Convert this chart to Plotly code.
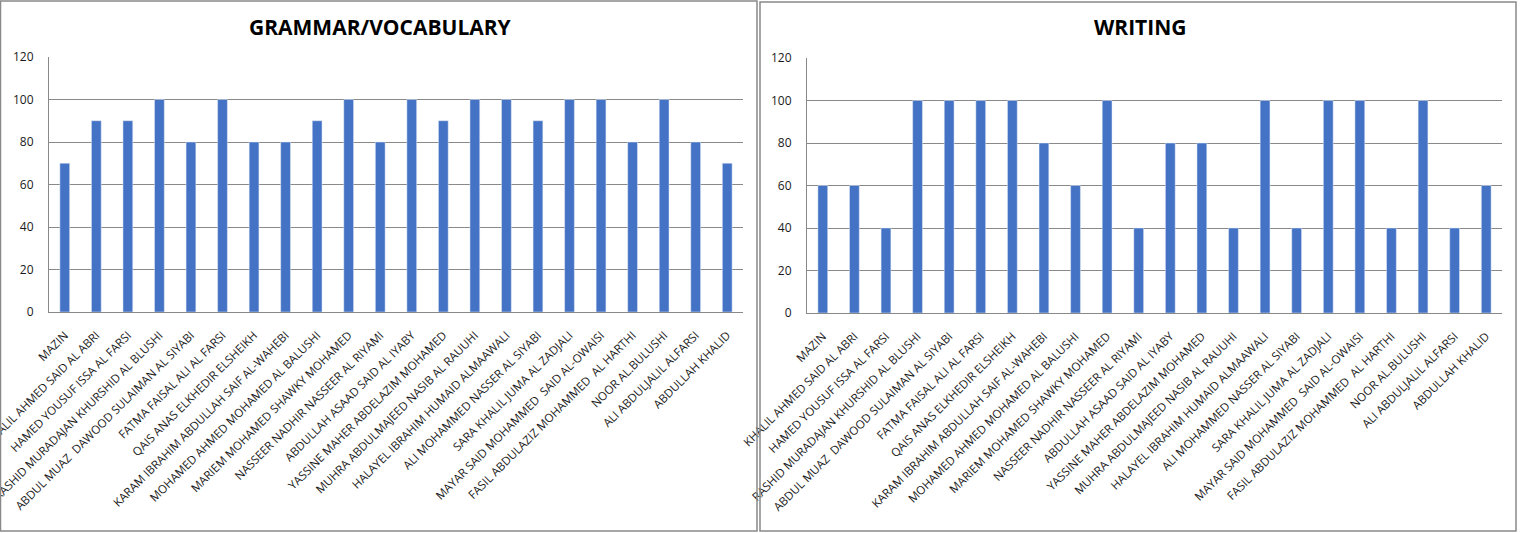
import plotly.graph_objects as go

# Student names (x categories)
students = [
    "MAZIN",
    "KHALIL AHMED SAID AL ABRI",
    "HAMED YOUSUF ISSA AL FARSI",
    "RASHID MURADAJAN KHURSHID AL BLUSHI",
    "ABDUL MUAZ  DAWOOD SULAIMAN AL SIYABI",
    "FATMA FAISAL ALI AL FARSI",
    "QAIS ANAS ELKHEDIR ELSHEIKH",
    "KARAM IBRAHIM ABDULLAH SAIF AL-WAHEBI",
    "MOHAMED AHMED MOHAMED AL BALUSHI",
    "MARIEM MOHAMED SHAWKY MOHAMED",
    "NASSEER NADHIR NASSEER AL RIYAMI",
    "ABDULLAH ASAAD SAID AL IYABY",
    "YASSINE MAHER ABDELAZIM MOHAMED",
    "MUHRA ABDULMAJEED NASIB AL RAUUHI",
    "HALAYEL IBRAHIM HUMAID ALMAAWALI",
    "ALI MOHAMMED NASSER AL SIYABI",
    "SARA KHALIL JUMA AL ZADJALI",
    "MAYAR SAID MOHAMMED  SAID AL-OWAISI",
    "FASIL ABDULAZIZ MOHAMMED  AL HARTHI",
    "NOOR AL.BULUSHI",
    "ALI ABDULJALIL ALFARSI",
    "ABDULLAH KHALID",
]

# Scores
grammar = [70, 90, 90, 100, 80, 100, 80, 80, 90, 100, 80,
           100, 90, 100, 100, 90, 100, 100, 80, 100, 80, 70]
writing = [60, 60, 40, 100, 100, 100, 100, 80, 60, 100, 40,
           80, 80, 40, 100, 40, 100, 100, 40, 100, 40, 60]

y_ticks = [0, 20, 40, 60, 80, 100, 120]

W, H = 1520, 533
BAR = "#4472C4"
GRID = "#898989"

def px_x(v):
    return v / W

def px_y(v):
    return 1 - v / H

fig = go.Figure()

fig.add_trace(go.Bar(x=students, y=grammar, marker_color=BAR,
                     xaxis="x", yaxis="y", showlegend=False))
fig.add_trace(go.Bar(x=students, y=writing, marker_color=BAR,
                     xaxis="x2", yaxis="y2", showlegend=False))

xcommon = dict(tickangle=-45, showgrid=False, showline=True, linecolor=GRID,
               linewidth=1, ticks="", automargin=False, fixedrange=True,
               ticklabelstandoff=11,
               tickfont=dict(family="Open Sans", size=11.6, color="#1a1a1a"))
ycommon = dict(range=[0, 120], tickvals=y_ticks, showgrid=True, gridcolor=GRID,
               gridwidth=1, showline=True, linecolor=GRID, linewidth=1,
               zeroline=False, ticks="", automargin=False, ticklabelstandoff=12,
               fixedrange=True,
               tickfont=dict(family="Open Sans", size=12, color="#1a1a1a"))

fig.update_layout(
    width=W, height=H,
    margin=dict(l=0, r=0, t=0, b=0),
    paper_bgcolor="white", plot_bgcolor="white",
    bargap=0.69,
    xaxis=dict(domain=[px_x(49), px_x(743)], anchor="y", **xcommon),
    yaxis=dict(domain=[px_y(312), px_y(57)], anchor="x", **ycommon),
    xaxis2=dict(domain=[px_x(807), px_x(1502)], anchor="y2", **xcommon),
    yaxis2=dict(domain=[px_y(313), px_y(58)], anchor="x2", **ycommon),
)

# Panel borders
for x0, x1, y0, y1 in [(0.5, 757, 1, 531), (760, 1516, 2, 531)]:
    fig.add_shape(type="rect", xref="paper", yref="paper",
                  x0=px_x(x0), x1=px_x(x1), y0=px_y(y1), y1=px_y(y0),
                  line=dict(color=GRID, width=1.5), fillcolor="rgba(0,0,0,0)")

# Titles
for text, xc in [("GRAMMAR/VOCABULARY", 380), ("WRITING", 1140)]:
    fig.add_annotation(text="<b>" + text + "</b>", xref="paper", yref="paper",
                       x=px_x(xc), y=px_y(27), showarrow=False,
                       xanchor="center", yanchor="middle",
                       font=dict(family="Open Sans", size=21, color="#000000"))

fig.write_html("out.html", config={"displayModeBar": False},
               post_script="document.body.style.margin='0';")
